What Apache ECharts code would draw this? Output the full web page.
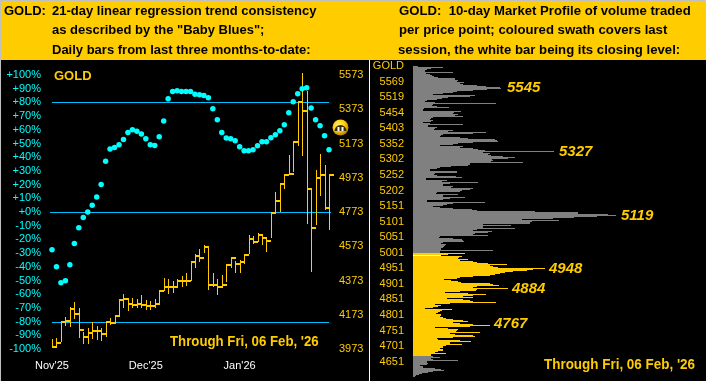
<!DOCTYPE html>
<html><head><meta charset="utf-8">
<style>html,body{margin:0;padding:0;background:#000}#c{width:706px;height:381px}</style>
<script src="https://cdn.jsdelivr.net/npm/echarts@6/dist/echarts.min.js"></script>
</head><body><div id="c"></div>
<script>
// Baby Blues trend consistency, percent, per daily bar
const babyBlues = [-27.5,-40,-51.6,-50.1,-38.5,-23,-11.5,-4,0,5,11,20,37,46,47,49,53,58,60,59,57,53.5,49,48.5,55,66.5,82.6,88,88.5,88,88,88,86,85.5,85,83.4,75.4,67.4,58,54,53.5,52,47.7,44.7,44.7,45.5,48.4,51.3,51.3,54.2,56.4,59.3,63.7,72.5,80.5,86.4,90,90.7,76,67.4,63,55.7,45.5];
// Daily bars
const highs = [4030,4038,4128,4159,4218,4249,4212,4075,4095,4128,4108,4098,4138,4153,4173,4261,4295,4271,4271,4265,4291,4261,4251,4265,4316,4385,4383,4369,4383,4402,4414,4481,4526,4555,4581,4575,4418,4383,4408,4467,4510,4487,4491,4522,4638,4634,4648,4630,4618,4771,4889,4938,4987,5104,5189,5414,5585,5477,4902,5016,5114,5045,4996];
const lows  = [3977,3983,4010,4104,4104,4151,4036,4006,4000,4026,4026,4022,4045,4114,4120,4173,4212,4196,4212,4212,4218,4202,4196,4212,4236,4310,4296,4300,4336,4340,4336,4369,4447,4477,4536,4316,4336,4287,4330,4359,4447,4418,4418,4467,4526,4589,4595,4575,4540,4620,4761,4775,4904,4987,5006,5159,5100,4702,4422,4693,4869,4781,4669];
const closes= [3987,4010,4128,4134,4208,4177,4085,4045,4065,4079,4079,4061,4130,4124,4163,4257,4267,4236,4232,4238,4230,4226,4226,4238,4310,4334,4334,4334,4373,4369,4369,4481,4516,4504,4571,4349,4349,4334,4345,4463,4502,4471,4483,4522,4614,4599,4638,4620,4604,4765,4840,4938,4987,4996,5183,5414,5363,4908,4679,4971,4987,4796,4987];
const monthLabels = {0:"Nov'25",21:"Dec'25",42:"Jan'26"};
const levelLines = [80,0,-80];
// Market profile: one value per price row, top to bottom
const profile = [0,
5,30,18,14,12,12,40,13,17,19,
21,25,42,42,45,44,51,47,50,64,
73,87,88,74,60,44,40,30,20,62,
57,35,29,24,14,12,22,83,20,19,
24,36,11,10,10,48,41,40,45,42,
50,20,18,17,20,18,10,17,50,15,
15,24,22,21,40,35,73,60,30,28,
27,47,55,82,84,85,60,45,40,27,
50,47,60,65,72,141,70,77,75,78,
90,102,95,79,80,78,110,57,57,55,
38,27,24,17,17,44,44,22,21,24,
43,49,13,13,34,29,65,37,30,30,
40,38,60,57,49,47,24,23,45,30,
30,52,37,30,14,14,72,40,34,30,
20,27,40,59,64,122,165,165,195,203,
184,161,140,109,146,119,117,117,70,98,
70,70,102,64,60,79,75,62,60,75,
27,26,40,49,50,51,30,28,33,32,
31,30,28,28,80,27,27,
52,35,28,49,46,45,55,47,60,64,
75,94,77,80,85,132,120,114,100,92,
87,82,77,60,47,44,31,38,45,48,
77,80,86,64,60,95,64,63,47,32,
55,73,60,50,60,34,50,57,60,83,
37,22,28,25,20,12,39,29,27,25,
23,28,28,27,30,33,40,50,55,40,
47,60,77,57,22,35,45,44,43,67,
37,42,60,62,40,24,25,47,58,37,
37,49,33,30,30,27,30,30,25,22,33,18,18,
20,27,18,20,45,14,14,15,14,7,10,10,22,28,31,20,15,9,6,3,2];
const profileTicks = {0:"GOLD",16:"5569",31:"5519",47:"5454",62:"5403",78:"5352",93:"5302",109:"5252",125:"5202",140:"5151",156:"5101",171:"5051",187:"5001",202:"4951",218:"4901",233:"4851",249:"4801",265:"4751",280:"4701",296:"4651"};
const sessionFirst = 188, sessionLast = 290, closeRow = 190;
const peaks = [["5545",507,88],["5327",559,152],["5119",621,216],["4948",549,269],["4884",512,289],["4767",494,324]];
const headLeft = [["GOLD:",4,11],["21-day linear regression trend consistency",52,11],['as described by the "Baby Blues";',52,30],["Daily bars from last three months-to-date:",52,50]];
const headRight = [["GOLD:  10-day Market Profile of volume traded",399,11],["per price point; coloured swath covers last",399,30],["session, the white bar being its closing level:",398,50]];

const GOLD='#FFCC00', CYAN='#00FFFF', LINE='#00BFFF';
const FF='"Liberation Sans", Arial, sans-serif';
const days = babyBlues.map((_,i)=>monthLabels[i]||'');
const rows = profile.map((_,i)=>profileTicks[i]||'');

function txt(t,x,y,font,fill,scale){return {type:'text',x:x,y:y,scaleX:scale||1,z:20,style:{text:t,font:font,fill:fill,textVerticalAlign:'middle',textBaseline:'middle'}};}
const HEAD='bold 13px '+FF;
const graphic=[
 {type:'rect',z:2,shape:{x:0,y:0,width:706,height:60},style:{fill:GOLD}},
 {type:'rect',z:3,shape:{x:0,y:0,width:706,height:1},style:{fill:'#C0C0C0'}},
 {type:'rect',z:3,shape:{x:0,y:0,width:1,height:381},style:{fill:'#C0C0C0'}},
 {type:'rect',z:3,shape:{x:369,y:60,width:1,height:321},style:{fill:'#FFFFFF'}},
 txt('GOLD',54,76,'bold 13px '+FF,GOLD,1),
 txt("Through Fri, 06 Feb, '26",170,342,'bold 14px '+FF,GOLD,0.945),
 txt("Through Fri, 06 Feb, '26",544,365,'bold 14px '+FF,GOLD,0.96),
 {type:'circle',z:20,shape:{cx:340.5,cy:127.5,r:8},style:{fill:{type:'radial',x:0.4,y:0.35,r:0.7,colorStops:[{offset:0,color:'#FFF07A'},{offset:0.55,color:'#FFCC00'},{offset:1,color:'#A86E00'}]}}},
 {type:'sector',z:21,shape:{cx:340.5,cy:131,r:6,r0:0,startAngle:Math.PI,endAngle:2*Math.PI},style:{fill:'#3A2A00'}},
 {type:'rect',z:22,shape:{x:337.5,y:127,width:2,height:4},style:{fill:'#FFFFFF'}},
 {type:'rect',z:22,shape:{x:341.5,y:127,width:2,height:4},style:{fill:'#FFFFFF'}}
];
headLeft.forEach(h=>graphic.push(txt(h[0],h[1],h[2],HEAD,'#000',1)));
headRight.forEach(h=>graphic.push(txt(h[0],h[1],h[2],HEAD,'#000',1.012)));
peaks.forEach(p=>graphic.push(txt(p[0],p[1],p[2],'italic bold 15px '+FF,GOLD,1)));

const option={
 animation:false,backgroundColor:'#000',
 graphic:graphic,
 grid:[{left:52,top:75,width:277,height:274},{left:413,top:65,width:293,height:312}],
 xAxis:[
  {type:'category',gridIndex:0,data:days,boundaryGap:false,axisLine:{show:false},axisTick:{show:false},splitLine:{show:false},
   axisLabel:{interval:0,margin:11,color:'#FFFFFF',fontFamily:FF,fontSize:11,hideOverlap:false}},
  {type:'value',gridIndex:1,min:0,max:293,show:false}
 ],
 yAxis:[
  {type:'value',gridIndex:0,min:-100,max:100,interval:10,position:'left',splitLine:{show:false},axisLine:{show:false},axisTick:{show:false},
   axisLabel:{margin:11,color:CYAN,fontFamily:FF,fontSize:11,formatter:v=>(v>=0?'+':'')+v+'%'}},
  {type:'value',gridIndex:0,min:3973,max:5573,interval:200,position:'right',splitLine:{show:false},axisLine:{show:false},axisTick:{show:false},
   axisLabel:{margin:10,color:GOLD,fontFamily:FF,fontSize:11,formatter:v=>String(v)}},
  {type:'category',gridIndex:1,data:rows,inverse:true,axisLine:{show:false},axisTick:{show:false},splitLine:{show:false},
   axisLabel:{interval:i=>!!profileTicks[i],margin:9,color:GOLD,fontFamily:FF,fontSize:11}}
 ],
 series:[
  {type:'custom',xAxisIndex:0,yAxisIndex:0,z:2,clip:false,silent:true,
   data:levelLines.map(v=>[v]),encode:{y:0},
   renderItem:(p,api)=>{
     const v=api.value(0),a=api.coord([0,v]),b=api.coord([babyBlues.length-1,v]);
     const pad=v===0?2:0;
     return {type:'rect',shape:{x:a[0]-pad,y:Math.round(a[1]),width:b[0]-a[0]+2*pad,height:1},style:{fill:LINE}};
   }},
  {type:'custom',xAxisIndex:0,yAxisIndex:1,z:3,clip:false,silent:true,
   data:highs.map((h,i)=>[i,h,lows[i],closes[i]]),encode:{x:0,y:[1,2,3]},
   renderItem:(p,api)=>{
     const hi=api.coord([api.value(0),api.value(1)]),lo=api.coord([api.value(0),api.value(2)]),cl=api.coord([api.value(0),api.value(3)]);
     const x=Math.round(hi[0]);
     return {type:'group',children:[
       {type:'rect',shape:{x:x,y:Math.round(hi[1]),width:1,height:Math.round(lo[1]-hi[1])},style:{fill:GOLD}},
       {type:'rect',shape:{x:x,y:Math.round(cl[1])-1,width:5,height:2},style:{fill:GOLD}}
     ]};
   }},
  {type:'scatter',xAxisIndex:0,yAxisIndex:0,z:4,symbol:'circle',symbolSize:5.5,silent:true,
   itemStyle:{color:CYAN,opacity:1},data:babyBlues.map((v,i)=>[i,v])},
  {type:'bar',xAxisIndex:1,yAxisIndex:2,barWidth:'100%',silent:true,data:profile,
   itemStyle:{color:p=>p.dataIndex===closeRow?'#FFFFFF':(p.dataIndex>=sessionFirst&&p.dataIndex<=sessionLast?GOLD:'#808080')}}
 ]
};
const chart=echarts.init(document.getElementById('c'),null,{renderer:'canvas',width:706,height:381});
chart.setOption(option);
</script></body></html>
